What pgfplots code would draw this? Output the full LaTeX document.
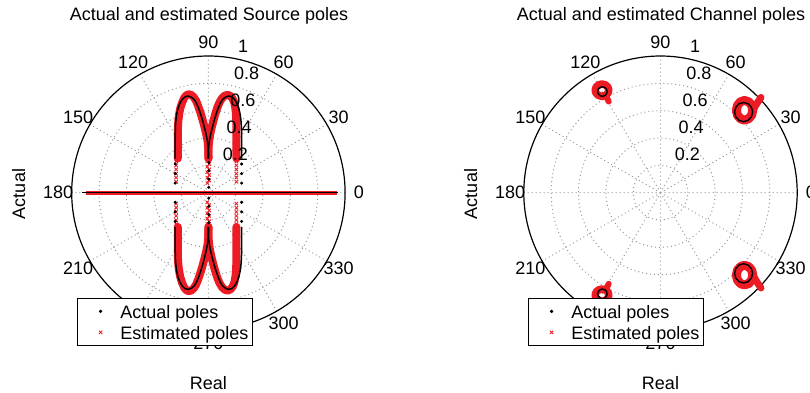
\documentclass[border=0pt]{standalone}
\usepackage{fontspec}
\setmainfont{Liberation Sans}
\usepackage{pgfplots}
\pgfplotsset{compat=1.18}
\usepgfplotslibrary{polar}
\definecolor{mred}{RGB}{237,28,36}
\newcommand{\ft}{\fontsize{9}{10.8}\selectfont}
\pgfplotsset{
  mpolar/.style={
    anchor=center,
    scale only axis, width=136.7pt, height=136.7pt,
    ymin=0, ymax=1,
    xtick={0,30,...,330},
    ytick={0.2,0.4,0.6,0.8},
    xticklabels={}, yticklabels={},
    major tick length=0pt,
    grid=major,
    major grid style={black!40, line width=0.5pt, dash pattern=on 0.5pt off 1.5pt},
    axis line style={black, line width=0.6pt},
    y axis line style={draw=none},
    clip=false,
    legend cell align=left,
    legend image code/.code={\path[draw=none,fill=none] (0pt,-2pt) rectangle (19.3pt,2pt); \draw[##1] plot coordinates {(9.4pt,0pt)};},
    legend style={anchor=north west, draw=black, line width=0.5pt, fill=white,
      inner xsep=2pt, inner ysep=1.5pt, row sep=0.35pt, column sep=0pt,
      font=\ft, nodes={inner sep=0pt, text height=8.8pt, text depth=1.35pt}},
  },
}
\tikzset{
  anglab/.style={font=\ft, inner sep=0pt, anchor=center},
  ringlab/.style={font=\ft, inner sep=0pt, anchor=base west, xshift=5pt, yshift=1.9pt},
}
\begin{document}
\begin{tikzpicture}
\useasboundingbox (0,0) rectangle (405pt,196pt);
%% ---------------- Source poles ----------------
\begin{polaraxis}[mpolar, at={(104.2pt,99.65pt)},
  legend style={at={(axis description cs:0.0205,0.116)}}]
\addlegendimage{black, mark=*, mark size=0.55pt}
\addlegendentry{Actual poles}
\addlegendimage{mred, mark=x, mark size=1.2pt, line width=0.45pt}
\addlegendentry{Estimated poles}
% estimated (red) arches
\addplot[data cs=cart, mred, line width=4pt, line join=round, line cap=round, forget plot] coordinates {
(-0.224,0.25) (-0.224,0.32) (-0.224,0.40) (-0.223,0.47) (-0.22,0.525) (-0.214,0.575) (-0.205,0.62) (-0.192,0.66) (-0.177,0.694) (-0.161,0.713) (-0.145,0.72) (-0.127,0.716) (-0.108,0.70) (-0.09,0.672) (-0.074,0.632) (-0.058,0.585) (-0.043,0.535) (-0.029,0.483) (-0.016,0.43) (-0.006,0.378) (0.0,0.32) (0.001,0.25)};
\addplot[data cs=cart, mred, line width=4pt, line join=round, line cap=round, forget plot] coordinates {
(-0.224,-0.25) (-0.224,-0.32) (-0.224,-0.40) (-0.223,-0.47) (-0.22,-0.525) (-0.214,-0.575) (-0.205,-0.62) (-0.192,-0.66) (-0.177,-0.694) (-0.161,-0.713) (-0.145,-0.72) (-0.127,-0.716) (-0.108,-0.70) (-0.09,-0.672) (-0.074,-0.632) (-0.058,-0.585) (-0.043,-0.535) (-0.029,-0.483) (-0.016,-0.43) (-0.006,-0.378) (0.0,-0.32) (0.001,-0.25)};
\addplot[data cs=cart, mred, line width=4pt, line join=round, line cap=round, forget plot] coordinates {
(-0.001,0.25) (0.0,0.32) (0.005,0.377) (0.013,0.427) (0.024,0.477) (0.037,0.528) (0.051,0.578) (0.066,0.625) (0.082,0.662) (0.1,0.692) (0.12,0.71) (0.142,0.716) (0.162,0.707) (0.177,0.688) (0.189,0.66) (0.197,0.62) (0.202,0.575) (0.204,0.525) (0.205,0.47) (0.205,0.40) (0.205,0.32) (0.205,0.25)};
\addplot[data cs=cart, mred, line width=4pt, line join=round, line cap=round, forget plot] coordinates {
(-0.001,-0.25) (0.0,-0.32) (0.005,-0.377) (0.013,-0.427) (0.024,-0.477) (0.037,-0.528) (0.051,-0.578) (0.066,-0.625) (0.082,-0.662) (0.1,-0.692) (0.12,-0.71) (0.142,-0.716) (0.162,-0.707) (0.177,-0.688) (0.189,-0.66) (0.197,-0.62) (0.202,-0.575) (0.204,-0.525) (0.205,-0.47) (0.205,-0.40) (0.205,-0.32) (0.205,-0.25)};
% actual (black) arches
\addplot[data cs=cart, black, line width=0.75pt, line join=round, forget plot] coordinates {
(-0.243,0.25) (-0.243,0.32) (-0.243,0.40) (-0.242,0.47) (-0.239,0.52) (-0.233,0.57) (-0.223,0.615) (-0.208,0.655) (-0.19,0.685) (-0.17,0.702) (-0.148,0.707) (-0.126,0.70) (-0.105,0.683) (-0.087,0.655) (-0.07,0.615) (-0.055,0.57) (-0.04,0.52) (-0.027,0.47) (-0.015,0.42) (-0.006,0.37) (0.0,0.32) (0.002,0.25)};
\addplot[data cs=cart, black, line width=0.75pt, line join=round, forget plot] coordinates {
(-0.243,-0.25) (-0.243,-0.32) (-0.243,-0.40) (-0.242,-0.47) (-0.239,-0.52) (-0.233,-0.57) (-0.223,-0.615) (-0.208,-0.655) (-0.19,-0.685) (-0.17,-0.702) (-0.148,-0.707) (-0.126,-0.70) (-0.105,-0.683) (-0.087,-0.655) (-0.07,-0.615) (-0.055,-0.57) (-0.04,-0.52) (-0.027,-0.47) (-0.015,-0.42) (-0.006,-0.37) (0.0,-0.32) (0.002,-0.25)};
\addplot[data cs=cart, black, line width=0.75pt, line join=round, forget plot] coordinates {
(-0.002,0.25) (0.0,0.32) (0.006,0.37) (0.015,0.42) (0.027,0.47) (0.04,0.52) (0.055,0.57) (0.07,0.615) (0.087,0.655) (0.105,0.683) (0.126,0.70) (0.148,0.707) (0.17,0.702) (0.19,0.685) (0.208,0.655) (0.223,0.615) (0.233,0.57) (0.239,0.52) (0.242,0.47) (0.243,0.40) (0.243,0.32) (0.243,0.25)};
\addplot[data cs=cart, black, line width=0.75pt, line join=round, forget plot] coordinates {
(-0.002,-0.25) (0.0,-0.32) (0.006,-0.37) (0.015,-0.42) (0.027,-0.47) (0.04,-0.52) (0.055,-0.57) (0.07,-0.615) (0.087,-0.655) (0.105,-0.683) (0.126,-0.70) (0.148,-0.707) (0.17,-0.702) (0.19,-0.685) (0.208,-0.655) (0.223,-0.615) (0.233,-0.57) (0.239,-0.52) (0.242,-0.47) (0.243,-0.40) (0.243,-0.32) (0.243,-0.25)};
% real poles on the real axis
\addplot[data cs=cart, mred, line width=2pt, forget plot] coordinates {(-0.895,0.0001) (0.94,0.0001)};
\addplot[data cs=cart, black, line width=0.7pt, forget plot] coordinates {(-0.925,0.0001) (0.95,0.0001)};
% sparse points near the real axis
\addplot[data cs=cart, only marks, mark=x, mark size=1.2pt, mred, line width=0.45pt, forget plot] coordinates {
(-0.236,0.23)(-0.236,0.20)(-0.236,0.17)(-0.236,0.14)(-0.236,0.11)(-0.236,0.08)
(-0.236,-0.23)(-0.236,-0.20)(-0.236,-0.17)(-0.236,-0.14)(-0.236,-0.11)(-0.236,-0.08)
(-0.008,0.23)(-0.008,0.19)(-0.008,0.15)(-0.008,0.11)(-0.008,0.07)
(-0.008,-0.23)(-0.008,-0.19)(-0.008,-0.15)(-0.008,-0.11)(-0.008,-0.07)
(0.006,0.21)(0.006,0.17)(0.006,0.13)(0.006,0.09)
(0.006,-0.21)(0.006,-0.17)(0.006,-0.13)(0.006,-0.09)
(0.205,0.23)(0.205,0.20)(0.205,0.17)(0.205,0.14)(0.205,0.11)(0.205,0.08)
(0.205,-0.23)(0.205,-0.20)(0.205,-0.17)(0.205,-0.14)(0.205,-0.11)(0.205,-0.08)};
\addplot[data cs=cart, only marks, mark=*, mark size=0.55pt, black, forget plot] coordinates {
(-0.243,0.21)(-0.243,0.14)(-0.243,0.07)(-0.243,-0.07)(-0.243,-0.14)(-0.243,-0.21)
(0.003,0.22)(0.003,0.16)(0.003,0.10)(0.003,0.04)(0.003,-0.04)(0.003,-0.10)(0.003,-0.16)(0.003,-0.22)
(0.243,0.21)(0.243,0.14)(0.243,0.07)(0.243,-0.07)(0.243,-0.14)(0.243,-0.21)};
% labels
\pgfplotsinvokeforeach{0,30,60,90,120,150,180,210,240,270,300,330}{\node[anglab] at (axis cs:#1,1.1) {#1};}
\node[ringlab] at (axis cs:82,0.21) {0.2};
\node[ringlab] at (axis cs:82,0.41) {0.4};
\node[ringlab] at (axis cs:82,0.61) {0.6};
\node[ringlab] at (axis cs:82,0.81) {0.8};
\node[ringlab] at (axis cs:82,1.01) {1};
\end{polaraxis}
%% ---------------- Channel poles ----------------
\begin{polaraxis}[mpolar, at={(330.25pt,99.65pt)},
  legend style={at={(axis description cs:0.0165,0.116)}}]
\addlegendimage{black, mark=*, mark size=0.55pt}
\addlegendentry{Actual poles}
\addlegendimage{mred, mark=x, mark size=1.2pt, line width=0.45pt}
\addlegendentry{Estimated poles}
% cluster near 45 deg and its conjugate
\addplot[data cs=cart, mred, line width=4.5pt, line join=round, forget plot] coordinates {
(0.675,0.603) (0.667,0.639) (0.645,0.665) (0.615,0.675) (0.585,0.665) (0.563,0.639) (0.555,0.603) (0.563,0.567) (0.585,0.541) (0.615,0.531) (0.645,0.541) (0.667,0.567) (0.675,0.603) (0.667,0.639)};
\addplot[data cs=cart, mred, line width=3.5pt, line cap=round, forget plot] coordinates {(0.672,0.585) (0.69,0.628) (0.712,0.663) (0.735,0.697)};
\addplot[data cs=cart, mred, line width=4.5pt, line join=round, forget plot] coordinates {
(0.675,-0.603) (0.667,-0.639) (0.645,-0.665) (0.615,-0.675) (0.585,-0.665) (0.563,-0.639) (0.555,-0.603) (0.563,-0.567) (0.585,-0.541) (0.615,-0.531) (0.645,-0.541) (0.667,-0.567) (0.675,-0.603) (0.667,-0.639)};
\addplot[data cs=cart, mred, line width=3.5pt, line cap=round, forget plot] coordinates {(0.672,-0.585) (0.69,-0.628) (0.712,-0.663) (0.735,-0.697)};
% cluster near 120 deg and its conjugate
\addplot[data cs=cart, mred, line width=3.8pt, line join=round, forget plot] coordinates {
(-0.378,0.75) (-0.385,0.7725) (-0.403,0.789) (-0.428,0.795) (-0.453,0.789) (-0.471,0.7725) (-0.478,0.75) (-0.471,0.7275) (-0.453,0.711) (-0.428,0.705) (-0.403,0.711) (-0.385,0.7275) (-0.378,0.75) (-0.385,0.7725)};
\addplot[data cs=cart, mred, line width=3pt, line cap=round, forget plot] coordinates {(-0.403,0.711) (-0.387,0.683) (-0.379,0.667)};
\addplot[data cs=cart, mred, line width=3.8pt, line join=round, forget plot] coordinates {
(-0.378,-0.75) (-0.385,-0.7725) (-0.403,-0.789) (-0.428,-0.795) (-0.453,-0.789) (-0.471,-0.7725) (-0.478,-0.75) (-0.471,-0.7275) (-0.453,-0.711) (-0.428,-0.705) (-0.403,-0.711) (-0.385,-0.7275) (-0.378,-0.75) (-0.385,-0.7725)};
\addplot[data cs=cart, mred, line width=3pt, line cap=round, forget plot] coordinates {(-0.403,-0.711) (-0.387,-0.683) (-0.379,-0.667)};
% actual (black) loops
\addplot[data cs=cart, black, line width=0.7pt, forget plot] coordinates {
(0.674,0.59) (0.665,0.625) (0.641,0.651) (0.608,0.66) (0.575,0.651) (0.551,0.625) (0.542,0.59) (0.551,0.555) (0.575,0.529) (0.608,0.52) (0.641,0.529) (0.665,0.555) (0.674,0.59)};
\addplot[data cs=cart, black, line width=0.7pt, forget plot] coordinates {
(0.674,-0.59) (0.665,-0.625) (0.641,-0.651) (0.608,-0.66) (0.575,-0.651) (0.551,-0.625) (0.542,-0.59) (0.551,-0.555) (0.575,-0.529) (0.608,-0.52) (0.641,-0.529) (0.665,-0.555) (0.674,-0.59)};
\addplot[data cs=cart, black, line width=0.7pt, forget plot] coordinates {
(-0.39,0.74) (-0.395,0.7575) (-0.4075,0.770) (-0.425,0.775) (-0.4425,0.770) (-0.455,0.7575) (-0.46,0.74) (-0.455,0.7225) (-0.4425,0.710) (-0.425,0.705) (-0.4075,0.710) (-0.395,0.7225) (-0.39,0.74)};
\addplot[data cs=cart, black, line width=0.7pt, forget plot] coordinates {
(-0.39,-0.74) (-0.395,-0.7575) (-0.4075,-0.770) (-0.425,-0.775) (-0.4425,-0.770) (-0.455,-0.7575) (-0.46,-0.74) (-0.455,-0.7225) (-0.4425,-0.710) (-0.425,-0.705) (-0.4075,-0.710) (-0.395,-0.7225) (-0.39,-0.74)};
% labels
\pgfplotsinvokeforeach{0,30,60,90,120,150,180,210,240,270,300,330}{\node[anglab] at (axis cs:#1,1.1) {#1};}
\node[ringlab] at (axis cs:82,0.21) {0.2};
\node[ringlab] at (axis cs:82,0.41) {0.4};
\node[ringlab] at (axis cs:82,0.61) {0.6};
\node[ringlab] at (axis cs:82,0.81) {0.8};
\node[ringlab] at (axis cs:82,1.01) {1};
\end{polaraxis}
%% titles and labels
\node[font=\ft, anchor=base] at (104.5pt,185.75pt) {Actual and estimated Source poles};
\node[font=\ft, anchor=base] at (330.5pt,185.75pt) {Actual and estimated Channel poles};
\node[font=\ft, anchor=base, rotate=90] at (12.5pt,99pt) {Actual};
\node[font=\ft, anchor=base, rotate=90] at (238.55pt,99pt) {Actual};
\node[font=\ft, anchor=base] at (104.2pt,1.1pt) {Real};
\node[font=\ft, anchor=base] at (330.25pt,1.1pt) {Real};
\end{tikzpicture}
\end{document}
